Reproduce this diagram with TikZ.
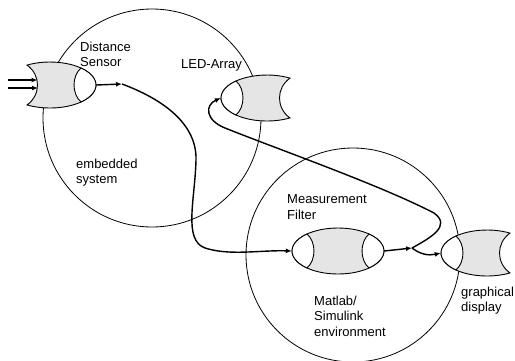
\documentclass[tikz,border=0pt]{standalone}
\usepackage{fontspec}
\setmainfont{Liberation Sans}
\usetikzlibrary{shapes.geometric, arrows.meta}

\tikzset{
	port/.style={ellipse, minimum width=92pt, minimum height=46pt, inner sep=0pt},
	region/.style={circle, draw, line width=0.8pt, minimum size=#1, inner sep=0pt},
	outline/.style={draw, line width=0.9pt},
	flow/.style={line width=1.4pt, -{Latex[length=6pt, width=5pt]}},
	wire/.style={line width=1.4pt},
	lbl/.style={inner sep=0pt, anchor=north west, align=left, font=\fontsize{13}{15.5}\selectfont},
}

\begin{document}
\begin{tikzpicture}[x=1pt, y=-1pt]

	\useasboundingbox (0, 0) rectangle (515, 360);

	\node (emb) [region=218pt] at (152, 118) {};
	\node (mat) [region=214pt] at (353, 255) {};

	\node (sens) [port] at (50, 85) {};
	\node (led) [port] at (267, 98) {};
	\node (filt) [port] at (338, 251) {};
	\node (disp) [port] at (487, 253) {};

	\begin{scope}[shift={(sens.center)}]
		\filldraw[fill=gray!20, outline] (-23, -19.9) arc[start angle=-120, end angle=120, x radius=46, y radius=23]
			.. controls (-9, 10) and (-9, -10) .. cycle;
		\filldraw[fill=white, outline] (31, -17) arc[start angle=-47.6, end angle=47.6, x radius=46, y radius=23]
			.. controls (21.7, 9) and (21.7, -9) .. cycle;
		\coordinate (sin1) at (-12.5, -5);
		\coordinate (sin2) at (-12, 3);
	\end{scope}

	\begin{scope}[shift={(led.center)}]
		\filldraw[fill=gray!20, outline] (23, -19.9) arc[start angle=-60, end angle=-300, x radius=46, y radius=23]
			.. controls (9, 10) and (9, -10) .. cycle;
		\filldraw[fill=white, outline] (-31, -17) arc[start angle=-132.4, end angle=-227.6, x radius=46, y radius=23]
			.. controls (-21.7, 9) and (-21.7, -9) .. cycle;
	\end{scope}

	\begin{scope}[shift={(filt.center)}]
		\filldraw[fill=gray!20, outline] (0, 0) ellipse[x radius=46, y radius=23];
		\filldraw[fill=white, outline] (-31, -17) arc[start angle=-132.4, end angle=-227.6, x radius=46, y radius=23]
			.. controls (-21.7, 9) and (-21.7, -9) .. cycle;
		\filldraw[fill=white, outline] (31, -17) arc[start angle=-47.6, end angle=47.6, x radius=46, y radius=23]
			.. controls (21.7, 9) and (21.7, -9) .. cycle;
	\end{scope}

	\begin{scope}[shift={(disp.center)}]
		\filldraw[fill=gray!20, outline] (23, -19.9) arc[start angle=-60, end angle=-300, x radius=46, y radius=23]
			.. controls (9, 10) and (9, -10) .. cycle;
		\filldraw[fill=white, outline] (-31, -17) arc[start angle=-132.4, end angle=-227.6, x radius=46, y radius=23]
			.. controls (-21.7, 9) and (-21.7, -9) .. cycle;
	\end{scope}

	\node (tsens) [lbl] at (80, 41.6) {Distance\\Sensor};
	\node (tled) [lbl] at (181, 59) {LED-Array};
	\node (temb) [lbl] at (76, 158.6) {embedded\\system};
	\node (tfilt) [lbl] at (287, 194.6) {Measurement\\Filter};
	\node (tmat) [lbl] at (314, 295.6) {Matlab/\\Simulink\\environment};
	\node (tdisp) [lbl] at (461, 286.6) {graphical\\display};

	\coordinate (in1) at (8, 80);
	\coordinate (in2) at (8, 88);
	\coordinate (j1) at (122, 84);
	\coordinate (j2) at (412, 248);

	\draw[flow] (in1) -- (sin1);
	\draw[flow] (in2) -- (sin2);
	\draw[flow] (sens.east) -- (j1);
	\draw[flow] (j1) .. controls (165, 100) and (197, 125) .. (196, 160)
		.. controls (195, 200) and (183, 240) .. (205, 248)
		.. controls (230, 256) and (260, 250) .. (filt.west);
	\draw[flow] (filt.east) -- (j2);
	\draw[flow] (j2) .. controls (420, 254) and (428, 256) .. (disp.west);
	\draw[flow] (j2) .. controls (430, 238) and (452, 226) .. (434, 213)
		.. controls (380, 185) and (280, 150) .. (225, 128)
		.. controls (205, 120) and (205, 105) .. (led.west);

\end{tikzpicture}
\end{document}
